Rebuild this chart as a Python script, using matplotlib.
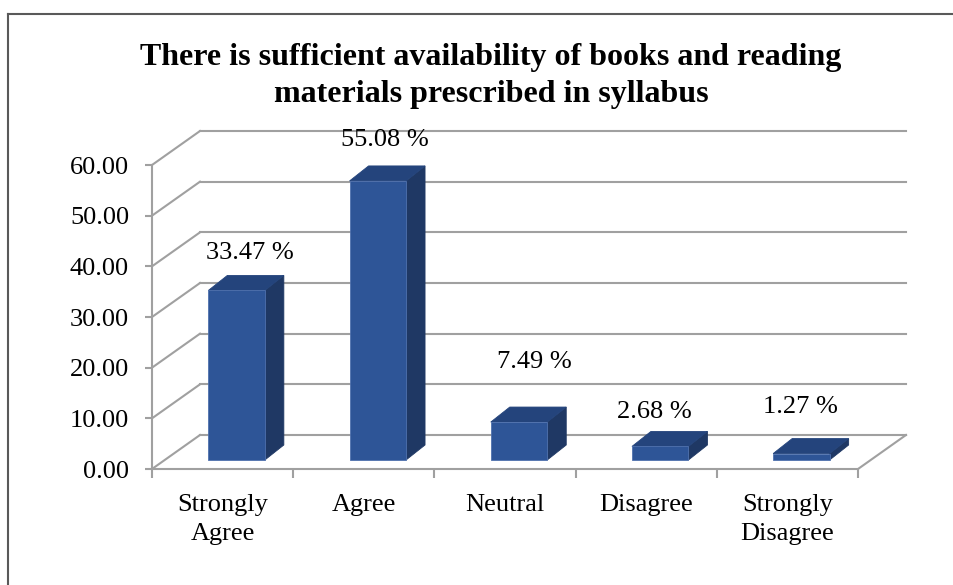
import matplotlib
matplotlib.use('Agg')
import matplotlib.pyplot as plt
from matplotlib.patches import Polygon
from matplotlib.lines import Line2D

# ---- data ----
categories = ['Strongly\nAgree', 'Agree', 'Neutral', 'Disagree', 'Strongly\nDisagree']
values = [33.47, 55.08, 7.49, 2.68, 1.27]
y_ticks = [0, 10, 20, 30, 40, 50, 60]
title = 'There is sufficient availability of books and reading\nmaterials prescribed in syllabus'

# ---- layout / style ----
W, H, DPI = 954, 585, 100
FRONT = '#2E5597'
SIDE = '#1F3864'
TOP = '#24447C'
EDGE = '#4F71AE'
GRID = '#A0A0A0'
label_dx_px = [4, -2, 6, -15, -10]
label_dy_px = [22, 26, 45, 19, 32]

plt.rcParams['font.family'] = ['Liberation Serif', 'DejaVu Serif']
fig = plt.figure(figsize=(W / DPI, H / DPI), dpi=DPI)
ax = fig.add_axes([152 / W, 1 - 469 / H, 706 / W, (469 - 165) / H])
n = len(values)
ax.set_xlim(0, n)
ax.set_ylim(y_ticks[0], y_ticks[-1])

ux = ax.bbox.width / n
uy = ax.bbox.height / (y_ticks[-1] - y_ticks[0])


def d(dxp, dyp):
    return dxp / ux, dyp / uy


wx, wy = d(48, 34)      # back-wall offset
fx, fy = d(14, 9)       # bar front-face offset
bx, by = d(19, 15)      # bar depth
bw = 0.40               # bar width (category units)

# walls / gridlines
for t in y_ticks:
    ax.plot([0, wx], [t, t + wy], color=GRID, lw=1.5, clip_on=False, zorder=1)
    ax.plot([wx, n + wx], [t + wy, t + wy], color=GRID, lw=1.5, clip_on=False, zorder=1)
ax.plot([n, n + wx], [0, wy], color=GRID, lw=1.5, clip_on=False, zorder=1)

# bars
for i, v in enumerate(values):
    xl = i + 0.5 - bw / 2 + fx
    xr = i + 0.5 + bw / 2 + fx
    y0 = fy
    y1 = v + fy
    front = Polygon([(xl, y0), (xr, y0), (xr, y1), (xl, y1)], closed=True,
                    facecolor=FRONT, edgecolor=EDGE, lw=0.6, clip_on=False, zorder=3)
    side = Polygon([(xr, y0), (xr + bx, y0 + by), (xr + bx, y1 + by), (xr, y1)], closed=True,
                   facecolor=SIDE, edgecolor=SIDE, lw=0.6, clip_on=False, zorder=3)
    top = Polygon([(xl, y1), (xr, y1), (xr + bx, y1 + by), (xl + bx, y1 + by)], closed=True,
                  facecolor=TOP, edgecolor=TOP, lw=0.6, clip_on=False, zorder=3)
    for p in (side, top, front):
        ax.add_patch(p)
    ldx, ldy = d(label_dx_px[i], label_dy_px[i])
    ax.text((xl + xr + bx) / 2 + ldx, y1 + by + ldy, f'{v:.2f} %',
            ha='center', va='center', fontsize=19, color='black', zorder=5)

# axes styling
for s in ('top', 'right'):
    ax.spines[s].set_visible(False)
for s in ('left', 'bottom'):
    ax.spines[s].set_color(GRID)
    ax.spines[s].set_linewidth(1.5)
    ax.spines[s].set_zorder(2)
ax.set_yticks(y_ticks)
ax.set_yticklabels([f'{t:.2f}' for t in y_ticks])
ax.tick_params(axis='y', length=5, width=1.5, color=GRID, pad=11.5, labelsize=19)
ax.set_xticks(range(n + 1))
ax.set_xticklabels([])
ax.tick_params(axis='x', which='major', length=6.5, width=1.5, color=GRID)
ax.set_xticks([i + 0.5 for i in range(n)], minor=True)
ax.set_xticklabels(categories, minor=True, linespacing=1.4)
ax.tick_params(axis='x', which='minor', length=0, pad=18, labelsize=19)
ax.patch.set_alpha(0)

# title
fig.text(491 / W, 1 - 76 / H, title, ha='center', va='center', fontsize=23,
         fontweight='bold', linespacing=1.35)

# outer frame (left and top edges)
fig.add_artist(Line2D([8 / W, 8 / W], [0, 1 - 14 / H], color='#595959', lw=1.5))
fig.add_artist(Line2D([8 / W, 1], [1 - 14 / H, 1 - 14 / H], color='#595959', lw=1.5))

fig.savefig('out.png', dpi=DPI)
